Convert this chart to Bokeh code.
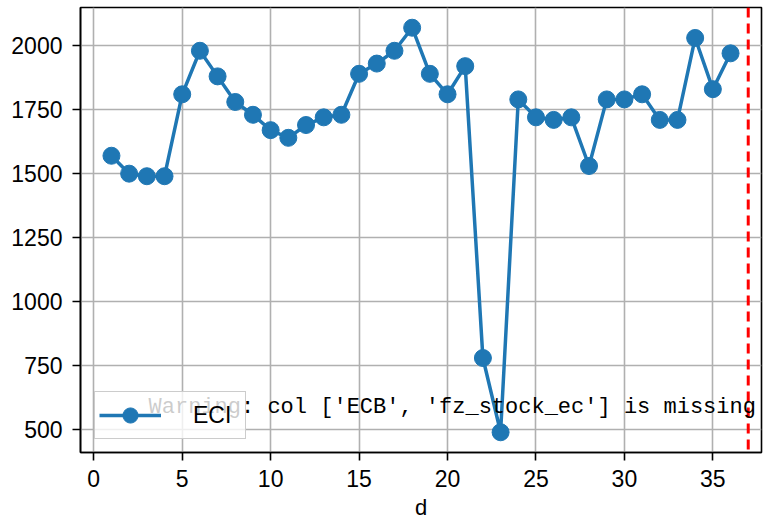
from bokeh.plotting import figure
from bokeh.models import Range1d, Span, Label, Legend, LegendItem, FixedTicker
from bokeh.embed import file_html
from bokeh.resources import INLINE

days = list(range(1, 37))
eci = [1570, 1500, 1490, 1490, 1810, 1980, 1880, 1780, 1730, 1670,
       1640, 1690, 1720, 1730, 1890, 1930, 1980, 2070, 1890, 1810,
       1920, 780, 490, 1790, 1720, 1710, 1720, 1530, 1790, 1790,
       1810, 1710, 1710, 2030, 1830, 1970]
series_name = "ECI"
vline_x = 37
warning_text = "Warning: col ['ECB', 'fz_stock_ec'] is missing"
x_label = "d"
x_ticks = [0, 5, 10, 15, 20, 25, 30, 35]
y_ticks = [500, 750, 1000, 1250, 1500, 1750, 2000]

FONT = "Liberation Sans"
BLUE = "#1f77b4"
X0, X1 = -0.75, 37.75
Y0, Y1 = 411, 2149

p = figure(width=763, height=526, output_backend="svg", toolbar_location=None,
           x_range=Range1d(X0, X1), y_range=Range1d(Y0, Y1),
           min_border_left=80, min_border_right=2, min_border_top=7, min_border_bottom=74)
p.outline_line_color = "black"
p.outline_line_width = 1.6
p.background_fill_color = "white"
p.border_fill_color = "white"

for ax in (p.xaxis[0], p.yaxis[0]):
    ax.axis_line_width = 1.6
    ax.axis_line_color = "black"
    ax.major_tick_line_width = 1.6
    ax.major_tick_line_color = "black"
    ax.major_tick_out = 8
    ax.major_tick_in = 0
    ax.minor_tick_line_color = None
    ax.major_label_text_font = FONT
    ax.major_label_text_font_size = "23px"
    ax.major_label_text_color = "black"

p.xaxis[0].major_label_standoff = 9
p.yaxis[0].major_label_standoff = 10
p.xaxis[0].ticker = FixedTicker(ticks=x_ticks)
p.yaxis[0].ticker = FixedTicker(ticks=y_ticks)
p.xaxis[0].axis_label = x_label
p.xaxis[0].axis_label_text_font = FONT
p.xaxis[0].axis_label_text_font_size = "22px"
p.xaxis[0].axis_label_text_font_style = "normal"
p.xaxis[0].axis_label_text_color = "black"
p.xaxis[0].axis_label_standoff = 5

p.xgrid.ticker = FixedTicker(ticks=x_ticks)
p.ygrid.ticker = FixedTicker(ticks=y_ticks)
p.grid.grid_line_color = "#b0b0b0"
p.grid.grid_line_width = 1.6

ln = p.line(days, eci, line_color=BLUE, line_width=3.5)
sc = p.scatter(days, eci, size=17, fill_color=BLUE, line_color=BLUE)

p.add_layout(Span(location=vline_x, dimension="height", line_color="red",
                  line_width=3, line_dash="10 6"))

p.add_layout(Label(x=3.1, y=588, text=warning_text, text_font="Liberation Mono",
                   text_font_size="22px", text_color="black", text_baseline="alphabetic"))

legend = Legend(items=[LegendItem(label=series_name, renderers=[ln, sc])],
                location=(14, 13), label_text_font=FONT, label_text_font_size="23px",
                label_text_color="black",
                glyph_width=62, glyph_height=38, label_standoff=32, padding=4,
                spacing=0, margin=0, border_line_color="#cccccc", border_line_width=1.5,
                border_line_alpha=1.0, background_fill_alpha=0.8,
                label_width=48)
p.add_layout(legend)

open("out.html", "w").write(file_html(p, INLINE))
